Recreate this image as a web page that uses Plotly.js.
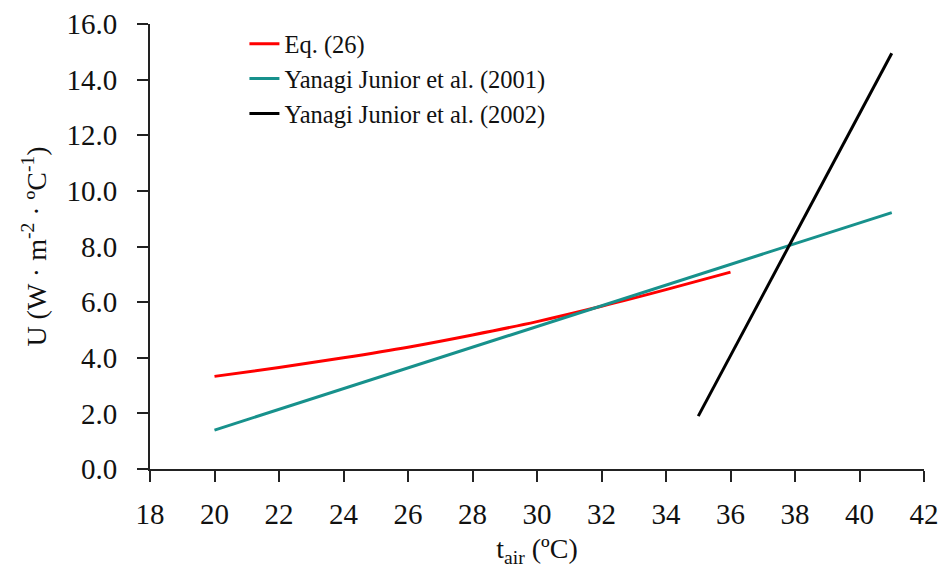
<!DOCTYPE html>
<html>
<head>
<meta charset="utf-8">
<script src="https://cdn.plot.ly/plotly-3.0.1.min.js"></script>
<style>html,body{margin:0;padding:0;background:#fff}#chart{width:941px;height:574px}</style>
</head>
<body>
<div id="chart"></div>
<script>
// Eq. (26)
const eqX = [20, 22, 24, 26, 28, 30, 32, 34, 36];
const eqY = [3.33, 3.65, 4.0, 4.38, 4.82, 5.3, 5.85, 6.45, 7.08];
// Yanagi Junior et al. (2001)
const y2001X = [20, 41];
const y2001Y = [1.4, 9.22];
// Yanagi Junior et al. (2002)
const y2002X = [35, 41];
const y2002Y = [1.9, 14.95];

const names = ["Eq. (26)", "Yanagi Junior et al. (2001)", "Yanagi Junior et al. (2002)"];
const colors = ["#ff0000", "#17918c", "#000000"];

const xTicks = [18, 20, 22, 24, 26, 28, 30, 32, 34, 36, 38, 40, 42];
const yTicks = [0, 2, 4, 6, 8, 10, 12, 14, 16];

const font = "'Liberation Serif', 'Times New Roman', serif";

const traces = [
  {x: eqX, y: eqY, name: names[0], legendgroup: "a", line: {color: colors[0], width: 3, shape: "spline"}},
  {x: y2001X, y: y2001Y, name: names[1], legendgroup: "b", line: {color: colors[1], width: 3}},
  {x: y2002X, y: y2002Y, name: names[2], legendgroup: "c", line: {color: colors[2], width: 3}}
].map(t => Object.assign({type: "scatter", mode: "lines", hoverinfo: "x+y"}, t));

const layout = {
  width: 941, height: 574,
  margin: {l: 150, r: 17, t: 24, b: 105},
  paper_bgcolor: "#fff", plot_bgcolor: "#fff",
  font: {family: font, color: "#111"},
  showlegend: true,
  legend: {
    x: 0.122, y: 1.006, xanchor: "left", yanchor: "top",
    font: {family: font, size: 24.5, color: "#111"},
    bgcolor: "rgba(0,0,0,0)", tracegroupgap: 0, traceorder: "grouped"
  },
  xaxis: {
    range: [18, 42], tickvals: xTicks, ticktext: xTicks.map(String),
    showgrid: false, zeroline: false, showline: true, linecolor: "#222", linewidth: 2,
    ticks: "outside", ticklen: 11, tickwidth: 2, tickcolor: "#222",
    tickfont: {family: font, size: 29, color: "#111"}, ticklabelstandoff: 7,
    title: {text: "t<sub>air</sub> (ºC)", font: {family: font, size: 28, color: "#111"}, standoff: 10}
  },
  yaxis: {
    range: [0, 16], tickvals: yTicks, ticktext: yTicks.map(v => v.toFixed(1)),
    showgrid: false, zeroline: false, showline: true, linecolor: "#222", linewidth: 2,
    ticks: "outside", ticklen: 11, tickwidth: 2, tickcolor: "#222",
    tickfont: {family: font, size: 29, color: "#111"}, ticklabelstandoff: 14,
    title: {text: "U (W · m<sup>-2</sup> · ºC<sup>-1</sup>)", font: {family: font, size: 28, color: "#111"}, standoff: 12}
  }
};

Plotly.newPlot("chart", traces, layout, {displayModeBar: false, staticPlot: true});
</script>
</body>
</html>
